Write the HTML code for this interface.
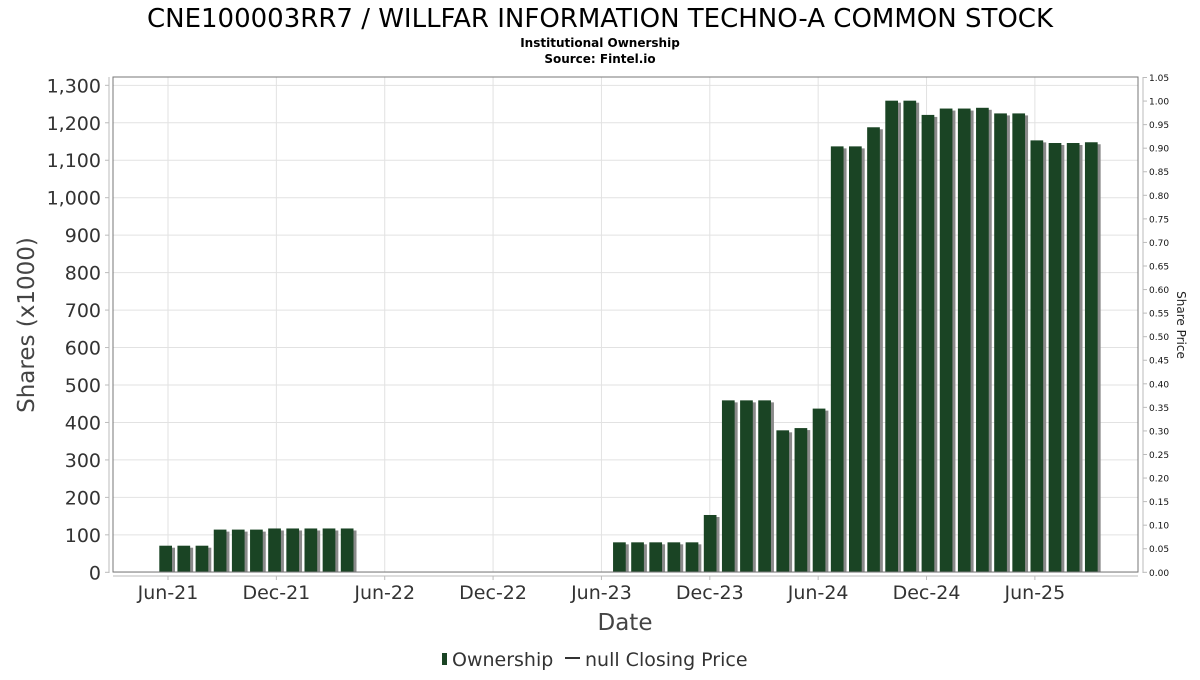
<!DOCTYPE html>
<html><head><meta charset="utf-8"><style>
body{margin:0;background:#fff;}
svg text{font-family:"DejaVu Sans","Liberation Sans",sans-serif;}
</style></head><body>
<svg id="chart" width="1200" height="675" viewBox="0 0 1200 675" xmlns="http://www.w3.org/2000/svg">
<text x="600" y="27" text-anchor="middle" font-size="26" fill="#000">CNE100003RR7 / WILLFAR INFORMATION TECHNO-A COMMON STOCK</text>
<text x="600" y="47" text-anchor="middle" font-size="12" font-weight="bold" fill="#000">Institutional Ownership</text>
<text x="600" y="63" text-anchor="middle" font-size="12" font-weight="bold" fill="#000">Source: Fintel.io</text>
<g id="grid"></g>
<g id="bars"></g>
<rect x="113" y="77" width="1025" height="495" fill="none" stroke="#777" stroke-width="1"/>
<line x1="109" y1="77" x2="109" y2="573" stroke="#bbb"/>
<line x1="1143" y1="77" x2="1143" y2="573" stroke="#bbb"/>
<line x1="113" y1="576" x2="1138" y2="576" stroke="#bbb"/>
<g id="axes"></g>
<text transform="translate(34,325) rotate(-90)" text-anchor="middle" font-size="23" fill="#444">Shares (x1000)</text>
<text transform="translate(1177,325) rotate(90)" text-anchor="middle" font-size="12" fill="#222">Share Price</text>
<text x="625" y="630" text-anchor="middle" font-size="23" fill="#444">Date</text>
<g>
<rect x="442" y="653" width="5" height="12" fill="#1a4424"/>
<text x="452" y="666" font-size="19" fill="#333">Ownership</text>
<line x1="565" y1="658" x2="580" y2="658" stroke="#333" stroke-width="2"/>
<text x="585" y="666" font-size="19" fill="#333">null Closing Price</text>
</g>
</svg>
<script>
const slotIndex=[0,1,2,3,4,5,6,7,8,9,10,25,26,27,28,29,30,31,32,33,34,35,36,37,38,39,40,41,42,43,44,45,46,47,48,49,50,51];
const shares=[71,71,71,114,114,114,117,117,117,117,117,80,80,80,80,80,153,459,459,459,379,385,437,1137,1137,1188,1259,1259,1221,1238,1238,1240,1225,1225,1153,1146,1146,1148];
const yTicks=[0,100,200,300,400,500,600,700,800,900,1000,1100,1200,1300];
const y2Ticks=[0,0.05,0.1,0.15,0.2,0.25,0.3,0.35,0.4,0.45,0.5,0.55,0.6,0.65,0.7,0.75,0.8,0.85,0.9,0.95,1.0,1.05];
const xLabels=["Jun-21","Dec-21","Jun-22","Dec-22","Jun-23","Dec-23","Jun-24","Dec-24","Jun-25"];
const xLabelMonth=[0,6,12,18,24,30,36,42,48];
const NS="http://www.w3.org/2000/svg";
const y0=572.3, yScale=0.3746;
function yPos(v){return y0-v*yScale;}
function y2Pos(v){return 572.3-v*(572.3-77.5)/1.05;}
function xSlot(i){return 159.3+i*18.15;}
function xMonth(m){return 168+m*18.06;}
function mk(tag,attrs,parent){const e=document.createElementNS(NS,tag);for(const k in attrs)e.setAttribute(k,attrs[k]);parent.appendChild(e);return e;}
const grid=document.getElementById('grid'),bars=document.getElementById('bars'),axes=document.getElementById('axes');
yTicks.forEach(v=>{
  const y=yPos(v);
  const g=mk('line',{x1:113,x2:1138,y1:y,y2:y,stroke:'#e2e2e2'},grid);
  
  
  const t=mk('line',{x1:105,x2:109,y1:y,y2:y,stroke:'#bbb'},axes);
  
  
  const l=mk('text',{x:101,y:y+7,'text-anchor':'end','font-size':19,fill:'#333'},axes);
  
  
  l.textContent=v.toLocaleString('en-US');
});
y2Ticks.forEach(v=>{
  const y=y2Pos(v);
  const t=mk('line',{x1:1143,x2:1147,y1:y,y2:y,stroke:'#bbb'},axes);
  
  
  const l=mk('text',{x:1149,y:y+3.5,'font-size':9,fill:'#111'},axes);
  
  
  l.textContent=v.toFixed(2);
});
xLabelMonth.forEach((m,i)=>{
  const x=xMonth(m);
  const g=mk('line',{x1:x,x2:x,y1:77,y2:572,stroke:'#e2e2e2'},grid);
  
  
  const t=mk('line',{x1:x,x2:x,y1:576,y2:580,stroke:'#bbb'},axes);
  
  
  const l=mk('text',{x:x,y:599,'text-anchor':'middle','font-size':19,fill:'#333'},axes);
  
  
  l.textContent=xLabels[i];
});
shares.forEach((v,i)=>{
  const x=xSlot(slotIndex[i]),y=yPos(v),h=y0-y;
  const s=mk('rect',{x:x+3,y:y+2,width:12.7,height:h-2,fill:'#8a8a8a'},bars);
  
  
  const b=mk('rect',{x:x,y:y,width:12.7,height:h,fill:'#1a4424'},bars);
  
  
});
</script>
</body></html>
